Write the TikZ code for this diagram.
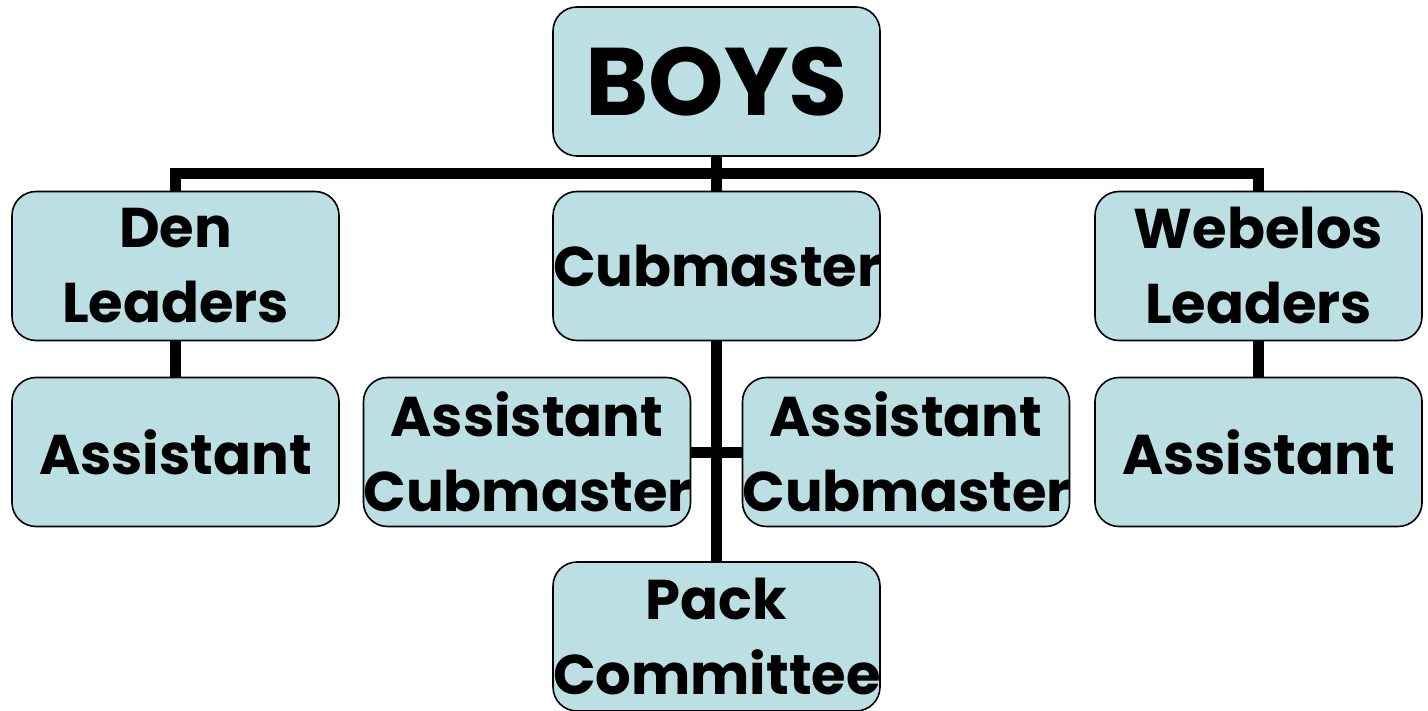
\documentclass[tikz,border=0pt]{standalone}
\usepackage{fontspec}
\setmainfont{Poppins}
\usepackage{tikz}
\usetikzlibrary{calc}
\definecolor{boxblue}{RGB}{187,223,226}
\newcommand{\widthbox}{163.5pt}
\newcommand{\heightbox}{74.5pt}
\tikzset{
    box/.style={draw, thick, fill=boxblue, rounded corners=12pt, inner sep=0pt,
        minimum width=\widthbox, minimum height=\heightbox, text width=\widthbox,
        align=center, font=\bfseries\fontsize{28}{37.5}\selectfont},
    bigbox/.style={box, font=\bfseries\fontsize{48}{50}\selectfont},
    link/.style={line width=5.5pt}
}
\begin{document}
\begin{tikzpicture}[x=0.5pt, y=-0.5pt]
    \useasboundingbox (0,0) rectangle (1428,711);

    \node[bigbox] (boys) at (716.5,81.5) {BOYS};

    \node[box] (den) at (175.5,266) {Den\\Leaders};
    \node[box] (cub) at (716.5,266) {Cubmaster};
    \node[box] (web) at (1258.5,266) {Webelos\\Leaders};

    \node[box] (denasst) at (175.5,452) {Assistant};
    \node[box] (cubasstl) at (527,452) {Assistant\\Cubmaster};
    \node[box] (cubasstr) at (906,452) {Assistant\\Cubmaster};
    \node[box] (webasst) at (1258.5,452) {Assistant};

    \node[box] (pack) at (716.5,636.5) {Pack\\Committee};

    \coordinate (bus) at ($(boys.south)!0.5!(cub.north)$);
    \draw[link] (den.north) |- (bus) -| (web.north);
    \draw[link] (boys) -- (cub) -- (pack);
    \draw[link] (cubasstl) -- (cubasstr);
    \draw[link] (den) -- (denasst);
    \draw[link] (web) -- (webasst);
\end{tikzpicture}
\end{document}
